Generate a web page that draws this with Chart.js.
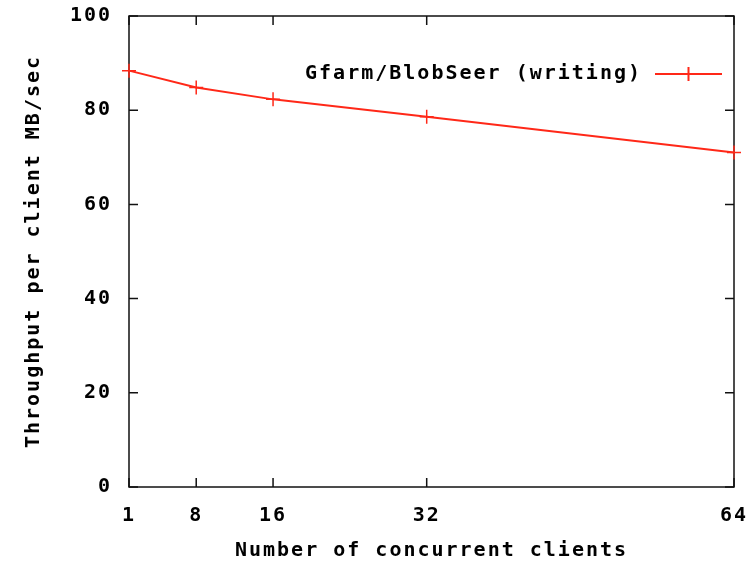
<!DOCTYPE html>
<html>
<head>
<meta charset="utf-8">
<script src="https://cdn.jsdelivr.net/npm/chart.js@4.4.1/dist/chart.umd.min.js"></script>
<style>
  html, body { margin: 0; padding: 0; background: #fff; }
  #wrap { width: 755px; height: 563px; }
</style>
</head>
<body>
<div id="wrap"><canvas id="grafica"></canvas></div>
<script>
// datos
const clientes = [1, 8, 16, 32, 64];
const throughput = [88.4, 84.8, 82.3, 78.6, 71.0];
const xTicks = [1, 8, 16, 32, 64];
const yTicks = [0, 20, 40, 60, 80, 100];
const serie = "Gfarm/BlobSeer (writing)";
const xTitle = "Number of concurrent clients";
const yTitle = "Throughput per client MB/sec";

const rojo = 'rgb(255,40,24)';
const fuente = { family: "'DejaVu Sans Mono', monospace", size: 20, weight: 'bold' };
const espacio = '2px';

// gnuplot usa letras muy anchas
const espaciado = {
    id: 'espaciado',
    beforeUpdate(chart) { chart.ctx.letterSpacing = espacio; },
    beforeLayout(chart) { chart.ctx.letterSpacing = espacio; },
    beforeDraw(chart) { chart.ctx.letterSpacing = espacio; }
};

// sin margen extra por las etiquetas de los extremos
function sinPadding(s) {
    s.paddingTop = 0;
    s.paddingBottom = 0;
    s.paddingLeft = 0;
    s.paddingRight = 0;
}

// caja con marcas hacia dentro en los 4 lados
const marco = {
    id: 'marco',
    beforeDatasetsDraw(chart) {
        const { ctx, chartArea: a, scales } = chart;
        const t = 9;
        ctx.save();
        ctx.strokeStyle = '#111';
        ctx.lineWidth = 1.5;
        ctx.strokeRect(a.left, a.top, a.right - a.left, a.bottom - a.top);
        ctx.beginPath();
        xTicks.forEach(v => {
            const px = scales.x.getPixelForValue(v);
            ctx.moveTo(px, a.bottom); ctx.lineTo(px, a.bottom - t);
            ctx.moveTo(px, a.top); ctx.lineTo(px, a.top + t);
        });
        yTicks.forEach(v => {
            const py = scales.y.getPixelForValue(v);
            ctx.moveTo(a.left, py); ctx.lineTo(a.left + t, py);
            ctx.moveTo(a.right, py); ctx.lineTo(a.right - t, py);
        });
        ctx.stroke();
        ctx.restore();
    }
};

// leyenda al estilo gnuplot: texto y luego la muestra
const leyenda = {
    id: 'leyenda',
    afterDraw(chart) {
        const { ctx, chartArea: a } = chart;
        const ds = chart.data.datasets[0];
        const y = a.top + 58;
        const x1 = a.right - 12;
        const x0 = x1 - 67;
        ctx.save();
        ctx.letterSpacing = espacio;
        ctx.font = "bold 20px 'DejaVu Sans Mono', monospace";
        ctx.fillStyle = '#000';
        ctx.textAlign = 'right';
        ctx.textBaseline = 'middle';
        ctx.fillText(ds.label, x0 - 13, y);
        ctx.strokeStyle = ds.borderColor;
        ctx.lineWidth = 2;
        ctx.beginPath();
        ctx.moveTo(x0, y); ctx.lineTo(x1, y);
        const xm = (x0 + x1) / 2;
        ctx.moveTo(xm, y - 7); ctx.lineTo(xm, y + 7);
        ctx.stroke();
        ctx.restore();
    }
};

const graph = document.getElementById("grafica");
const myChart = new Chart(graph, {
    type: 'line',
    data: {
        datasets: [{
            label: serie,
            data: clientes.map((c, i) => ({ x: c, y: throughput[i] })),
            borderColor: rojo,
            backgroundColor: rojo,
            borderWidth: 2,
            pointStyle: 'cross',
            pointRadius: 7,
            pointBorderWidth: 1.5,
            tension: 0,
            fill: false,
            clip: false
        }]
    },
    options: {
        responsive: true,
        maintainAspectRatio: false,
        animation: false,
        layout: { padding: { top: 16, right: 21, left: 0, bottom: 0 } },
        plugins: {
            legend: { display: false },
            tooltip: { enabled: false }
        },
        scales: {
            x: {
                type: 'linear',
                min: 1,
                max: 64,
                afterBuildTicks: s => { s.ticks = xTicks.map(v => ({ value: v })); },
                grid: { display: false, drawTicks: false },
                border: { display: false },
                ticks: { color: '#000', font: fuente, padding: 17, maxRotation: 0, autoSkip: false },
                title: { display: true, text: xTitle, color: '#000', font: fuente, padding: { top: 0, bottom: 0 } },
                afterFit: s => { s.height = 76; sinPadding(s); }
            },
            y: {
                min: 0,
                max: 100,
                afterBuildTicks: s => { s.ticks = yTicks.map(v => ({ value: v })); },
                grid: { display: false, drawTicks: false },
                border: { display: false },
                ticks: { color: '#000', font: fuente, padding: 17 },
                title: { display: true, text: yTitle, color: '#000', font: fuente, padding: { top: 22, bottom: 0 } },
                afterFit: s => { s.width = 129; sinPadding(s); }
            }
        }
    },
    plugins: [espaciado, marco, leyenda]
});
</script>
</body>
</html>
